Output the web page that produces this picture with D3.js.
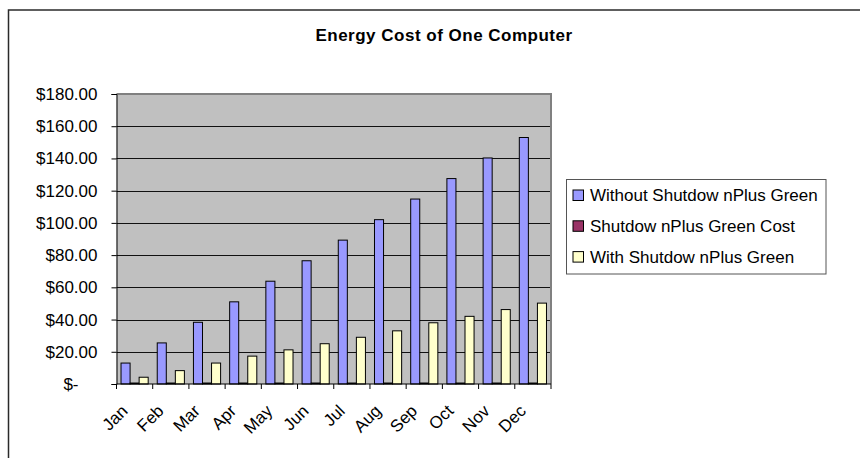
<!DOCTYPE html>
<html>
<head>
<meta charset="utf-8">
<script src="https://cdn.jsdelivr.net/npm/d3@7"></script>
<style>
  body { margin: 0; background: #fff; }
  svg { display: block; font-family: "Liberation Sans", Arial, sans-serif; }
  .grid line { stroke: #111; stroke-width: 1; }
  .bar { stroke: #000; stroke-width: 1; }
</style>
</head>
<body>
<svg class="energy" width="860" height="458"></svg>
<script>
const months = ['Jan', 'Feb', 'Mar', 'Apr', 'May', 'Jun', 'Jul', 'Aug', 'Sep', 'Oct', 'Nov', 'Dec']
const seriesNames = ['Without Shutdow nPlus Green', 'Shutdow nPlus Green Cost', 'With Shutdow nPlus Green']
const withoutShutdown = [13, 25.5, 38.3, 51, 63.8, 76.5, 89.3, 102, 114.8, 127.5, 140.3, 153]
const shutdownCost = [0.6, 0.6, 0.6, 0.6, 0.6, 0.6, 0.6, 0.6, 0.6, 0.6, 0.6, 0.6]
const withShutdown = [4.2, 8.3, 13, 17.3, 21.2, 25, 29, 33, 38, 42, 46.2, 50.2]
const yTicks = [0, 20, 40, 60, 80, 100, 120, 140, 160, 180]
const colors = ['#9999FF', '#993366', '#FFFFCC']

const seriesValues = [withoutShutdown, shutdownCost, withShutdown]

const margin = { top: 94, right: 309, bottom: 74, left: 116.5 }
const width = 860, height = 458
const fontSize = 17
const svg = d3.select('svg.energy')

// chart area frame (only top and left edges are inside the picture)
svg.append('path')
  .attr('d', 'M8.5,458 V10 H860')
  .attr('fill', 'none')
  .attr('stroke', '#2a2a2a')
  .attr('stroke-width', 1.5)

svg.append('text')
  .attr('x', 444)
  .attr('y', 41)
  .attr('text-anchor', 'middle')
  .attr('font-weight', 'bold')
  .attr('font-size', 17)
  .attr('letter-spacing', 0.5)
  .text('Energy Cost of One Computer')

const x = d3.scaleBand().domain(months).range([margin.left, width - margin.right])
const xInner = d3.scaleBand().domain(seriesNames).range([0, x.bandwidth()]).paddingOuter(0.5)
const y = d3.scaleLinear().domain([0, 180]).range([height - margin.bottom, margin.top])

const plotW = width - margin.right - margin.left
const plotH = height - margin.bottom - margin.top

svg.append('rect')
  .attr('x', margin.left)
  .attr('y', margin.top)
  .attr('width', plotW)
  .attr('height', plotH)
  .attr('fill', '#C0C0C0')

// gridlines
svg.append('g')
  .attr('class', 'grid')
  .selectAll('line')
  .data(yTicks.filter((d) => d > 0 && d < 180))
  .enter()
  .append('line')
  .attr('x1', margin.left)
  .attr('x2', width - margin.right)
  .attr('y1', (d) => Math.round(y(d)) + 0.5)
  .attr('y2', (d) => Math.round(y(d)) + 0.5)

// plot border top/right in gray
svg.append('path')
  .attr('d', `M${margin.left},${margin.top} H${width - margin.right} V${height - margin.bottom}`)
  .attr('fill', 'none')
  .attr('stroke', '#808080')
  .attr('stroke-width', 2)

const groups = svg.append('g')
  .selectAll('g')
  .data(seriesNames)
  .enter()
  .append('g')
  .attr('fill', (d, i) => colors[i])

groups.selectAll('rect')
  .data((d, i) => seriesValues[i].map((v, j) => ({ name: d, month: months[j], value: v })))
  .enter()
  .append('rect')
  .attr('class', 'bar')
  .attr('x', (d) => x(d.month) + xInner(d.name))
  .attr('y', (d) => y(d.value))
  .attr('width', xInner.bandwidth())
  .attr('height', (d) => y(0) - y(d.value))

// y axis
const yAxis = svg.append('g')
  .attr('transform', `translate(${margin.left},0)`)
  .call(d3.axisLeft(y).tickValues(yTicks).tickSize(5).tickPadding(14)
    .tickFormat((d) => d === 0 ? '$-' : d3.format('$,.2f')(d)))
yAxis.select('.domain').attr('stroke', '#000')
yAxis.selectAll('text')
  .attr('font-size', fontSize)
  .attr('font-family', '"Liberation Sans", Arial, sans-serif')
  .attr('fill', '#000')
  .attr('dx', (d) => d === 0 ? -19 : 0)

// x axis: ticks at category boundaries
const xAxis = svg.append('g')
  .attr('transform', `translate(0,${height - margin.bottom})`)
xAxis.append('line')
  .attr('x1', margin.left).attr('x2', width - margin.right)
  .attr('stroke', '#000')
xAxis.selectAll('line.tick')
  .data(months.concat(['end']))
  .enter()
  .append('line')
  .attr('class', 'tick')
  .attr('x1', (d, i) => i < months.length ? x(d) : width - margin.right)
  .attr('x2', (d, i) => i < months.length ? x(d) : width - margin.right)
  .attr('y1', 0).attr('y2', 5)
  .attr('stroke', '#000')

xAxis.selectAll('text')
  .data(months)
  .enter()
  .append('text')
  .attr('transform', (d) => `translate(${x(d) + x.bandwidth() / 2 - 6},28) rotate(-45)`)
  .attr('text-anchor', 'end')
  .attr('font-size', fontSize)
  .text((d) => d)

// legend
const legend = svg.append('g').attr('transform', 'translate(566.5,179.5)')
legend.append('rect')
  .attr('width', 259.5)
  .attr('height', 94.5)
  .attr('fill', '#fff')
  .attr('stroke', '#555')

const items = legend.selectAll('g')
  .data(seriesNames)
  .enter()
  .append('g')
  .attr('transform', (d, i) => `translate(0,${15.5 + i * 30.8})`)
items.append('rect')
  .attr('x', 6.5).attr('y', -5)
  .attr('width', 10.5).attr('height', 10.5)
  .attr('fill', (d, i) => colors[i])
  .attr('stroke', '#000')
items.append('text')
  .attr('x', 23.5)
  .attr('dy', '0.36em')
  .attr('font-size', fontSize)
  .text((d) => d)
</script>
</body>
</html>
